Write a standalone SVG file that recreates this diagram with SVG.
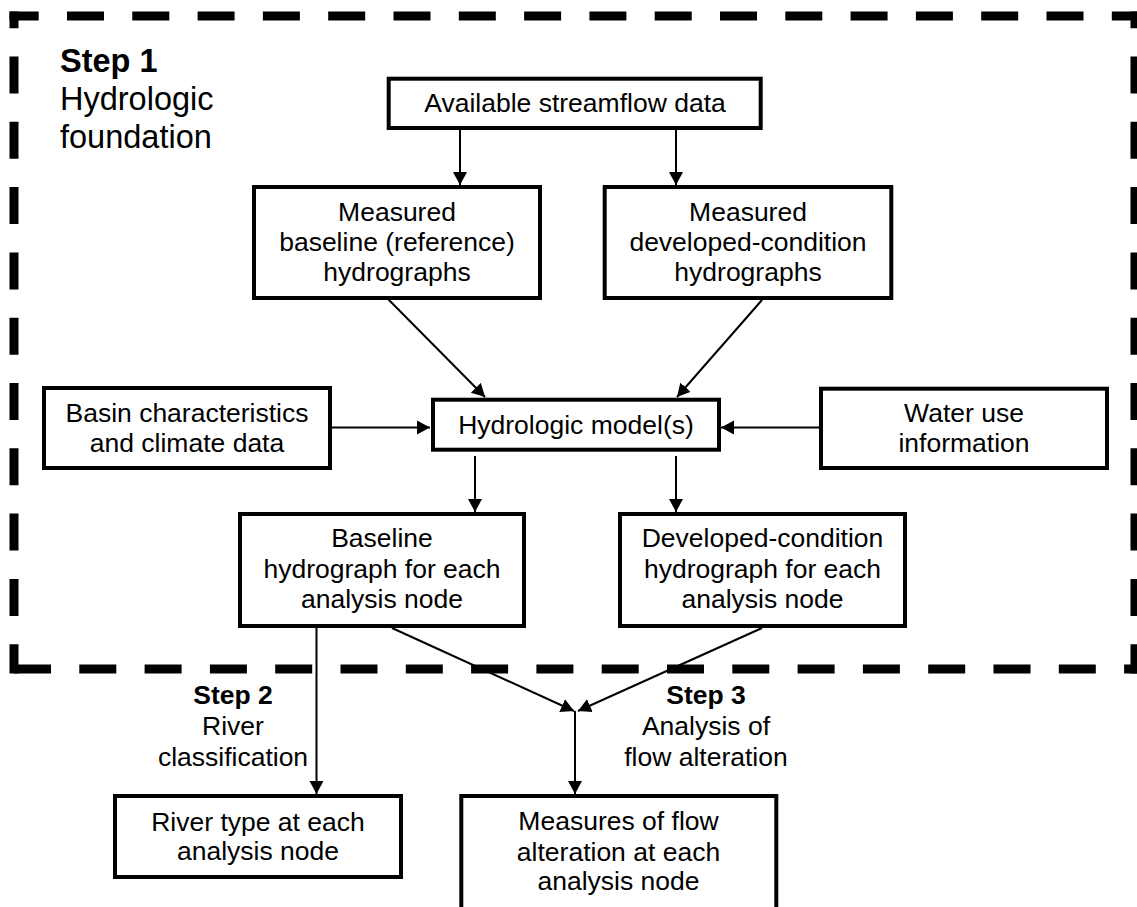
<svg xmlns="http://www.w3.org/2000/svg" width="1137" height="907" viewBox="0 0 1137 907">
<style>
  .box { fill: #fff; stroke: #000; stroke-width: 4; }
  .t { font-family: "Liberation Sans", Arial, sans-serif; font-size: 26.5px; fill: #000; text-anchor: middle; }
  .b { font-weight: bold; }
  .s1 { text-anchor: start; font-size: 32.5px; }
  .c { stroke: #000; stroke-width: 2; fill: none; marker-end: url(#ah); }
  .dash { stroke: #000; stroke-width: 9; fill: none; stroke-dasharray: 37 28.3; }
</style>
<defs>
  <marker id="ah" markerUnits="userSpaceOnUse" markerWidth="14" markerHeight="15" refX="13" refY="7" orient="auto" viewBox="0 0 14 14">
    <path d="M0,0 L13,7 L0,14 z" fill="#000"/>
  </marker>
</defs>
<rect width="1137" height="907" fill="#fff"/>

<g id="frame">
  <line class="dash" x1="9.5" y1="16" x2="1139.5" y2="16" stroke-dashoffset="7.8"/>
  <line class="dash" x1="14" y1="11.5" x2="14" y2="673.5" stroke-dashoffset="20.3"/>
  <line class="dash" x1="1135" y1="11.5" x2="1135" y2="673.5" stroke-dashoffset="20.3"/>
  <line class="dash" x1="9.5" y1="669" x2="1139.5" y2="669" stroke-dashoffset="60.8"/>
</g>

<g id="connectors">
  <line class="c" x1="460" y1="130" x2="460" y2="185"/>
  <line class="c" x1="676" y1="130" x2="676" y2="185"/>
  <line class="c" x1="388" y1="299" x2="485" y2="397"/>
  <line class="c" x1="762" y1="300" x2="677" y2="397"/>
  <line class="c" x1="332" y1="427.5" x2="430" y2="427.5"/>
  <line class="c" x1="819" y1="427.5" x2="721" y2="427.5"/>
  <line class="c" x1="475" y1="456" x2="475" y2="512"/>
  <line class="c" x1="676" y1="456" x2="676" y2="512"/>
  <line class="c" x1="316.5" y1="628" x2="316.5" y2="794"/>
  <line class="c" x1="392" y1="628" x2="574" y2="711"/>
  <line class="c" x1="762" y1="628" x2="578" y2="711"/>
  <line class="c" x1="575" y1="711" x2="575" y2="794"/>
</g>

<g id="step1">
  <text class="t b s1" x="60" y="72">Step 1</text>
  <text class="t s1" x="60" y="110">Hydrologic</text>
  <text class="t s1" x="60" y="148">foundation</text>
</g>

<g id="n_available">
  <rect class="box" x="388.7" y="78.7" width="372" height="49.3"/>
  <text class="t" x="575" y="112">Available streamflow data</text>
</g>

<g id="n_meas_baseline">
  <rect class="box" x="254" y="187" width="286" height="111"/>
  <text class="t" x="397" y="221">Measured</text>
  <text class="t" x="397" y="251">baseline (reference)</text>
  <text class="t" x="397" y="281">hydrographs</text>
</g>

<g id="n_meas_developed">
  <rect class="box" x="604.7" y="187" width="286.6" height="111"/>
  <text class="t" x="748" y="221">Measured</text>
  <text class="t" x="748" y="251">developed-condition</text>
  <text class="t" x="748" y="281">hydrographs</text>
</g>

<g id="n_basin">
  <rect class="box" x="44" y="388" width="286" height="80"/>
  <text class="t" x="187" y="422">Basin characteristics</text>
  <text class="t" x="187" y="452">and climate data</text>
</g>

<g id="n_model">
  <rect class="box" x="433" y="399.7" width="286" height="50"/>
  <text class="t" x="576" y="434">Hydrologic model(s)</text>
</g>

<g id="n_water">
  <rect class="box" x="821" y="388.7" width="286" height="79.3"/>
  <text class="t" x="964" y="422">Water use</text>
  <text class="t" x="964" y="452">information</text>
</g>

<g id="n_baseline">
  <rect class="box" x="240" y="514" width="284" height="112"/>
  <text class="t" x="382" y="547">Baseline</text>
  <text class="t" x="382" y="578">hydrograph for each</text>
  <text class="t" x="382" y="608">analysis node</text>
</g>

<g id="n_developed">
  <rect class="box" x="620" y="514" width="285" height="112"/>
  <text class="t" x="762.5" y="547">Developed-condition</text>
  <text class="t" x="762.5" y="578">hydrograph for each</text>
  <text class="t" x="762.5" y="608">analysis node</text>
</g>

<g id="step2">
  <text class="t b" x="233" y="704">Step 2</text>
  <text class="t" x="233" y="735">River</text>
  <text class="t" x="233" y="766">classification</text>
</g>

<g id="step3">
  <text class="t b" x="706" y="704">Step 3</text>
  <text class="t" x="706" y="735">Analysis of</text>
  <text class="t" x="706" y="766">flow alteration</text>
</g>

<g id="n_river">
  <rect class="box" x="115" y="796" width="286" height="81"/>
  <text class="t" x="258" y="831">River type at each</text>
  <text class="t" x="258" y="860">analysis node</text>
</g>

<g id="n_measures">
  <rect class="box" x="461.3" y="796" width="315" height="130"/>
  <text class="t" x="618.5" y="830">Measures of flow</text>
  <text class="t" x="618.5" y="861">alteration at each</text>
  <text class="t" x="618.5" y="890">analysis node</text>
</g>
</svg>
